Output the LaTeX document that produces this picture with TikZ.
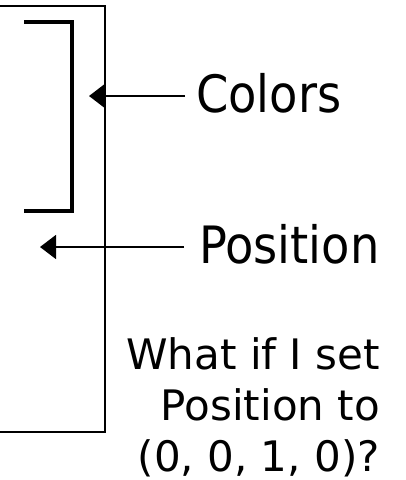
\documentclass[tikz,border=0pt]{standalone}
\usepackage{fontspec}
\setmainfont{DejaVu Sans}
\newfontfamily\labelfont{DejaVu Sans Condensed}
\usetikzlibrary{arrows.meta}
\tikzset{
  label text/.style={inner ysep=0pt, inner xsep=11pt, anchor=base west,
    font=\labelfont\fontsize{51.5}{51.5}\selectfont},
  note text/.style={inner sep=0pt, anchor=base east, align=right,
    font=\fontsize{42}{51}\selectfont},
  pointer/.style={-{Triangle[length=16pt,width=24pt]}},
}
\begin{document}
\begin{tikzpicture}[x=1pt,y=-1pt]
  \useasboundingbox (0,0) rectangle (406,480);
  % frame of the vector
  \draw[line width=2pt] (-10,6) -- (105,6) -- (105,432) -- (-10,432);
  % bracket grouping the colour components
  \draw[line width=4pt, line cap=butt, line join=miter] (24,22) -- (72,22) -- (72,211) -- (24,211);
  % labels
  \node[label text] (colors) at (185,112) {Colors};
  \node[label text, inner xsep=15pt] (position) at (184,263) {Position};
  \coordinate (ctip) at (89,96);
  \coordinate (ptip) at (40,247);
  \draw[pointer, line width=2pt] (colors.west |- ctip) -- (ctip);
  \draw[pointer, line width=1.5pt] (position.west |- ptip) -- (ptip);
  % question below
  \node[note text] (question) at (380,471) {What if I set\\Position to\\(0, 0, 1, 0)?};
\end{tikzpicture}
\end{document}
